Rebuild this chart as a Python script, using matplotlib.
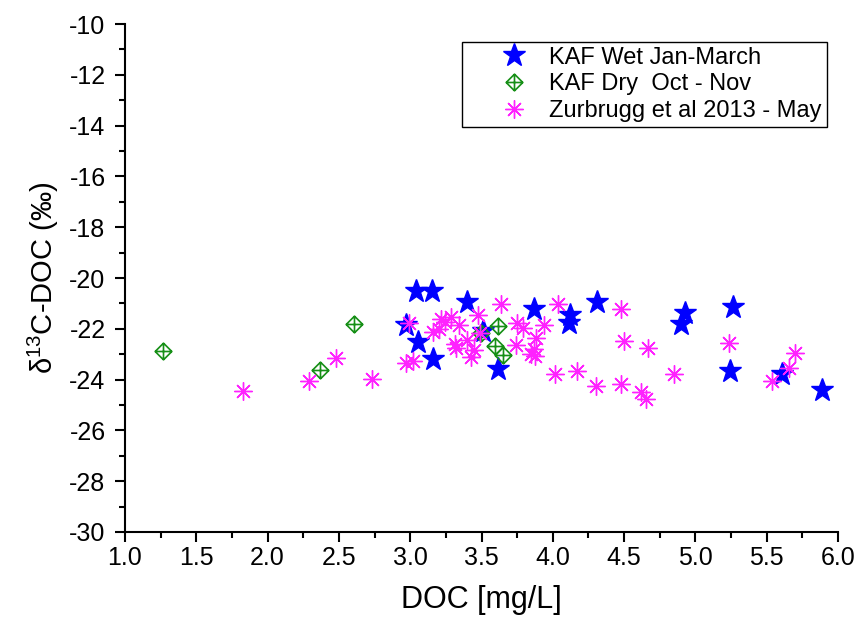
import numpy as np
import matplotlib
matplotlib.use("Agg")
import matplotlib.pyplot as plt
from matplotlib.path import Path
from matplotlib.ticker import MultipleLocator, FormatStrFormatter

plt.rcParams['font.family'] = ['Liberation Sans', 'DejaVu Sans']
plt.rcParams['mathtext.fontset'] = 'custom'
plt.rcParams['mathtext.rm'] = 'Liberation Sans'
plt.rcParams['mathtext.it'] = 'Liberation Sans:italic'

# KAF wet season (Jan-March)
wet_doc = [3.04, 3.15, 3.40, 3.87, 2.97, 3.056, 3.157, 3.508, 3.618, 4.31,
           4.12, 4.113, 4.926, 4.90, 5.266, 5.243, 5.61, 5.89]
wet_d13c = [-20.52, -20.52, -20.95, -21.22, -21.87, -22.5, -23.2, -22.07, -23.6, -20.95,
            -21.45, -21.77, -21.37, -21.8, -21.15, -23.68, -23.78, -24.41]

# KAF dry season (Oct - Nov)
dry_doc = [1.265, 2.366, 2.606, 3.496, 3.618, 3.595, 3.649]
dry_d13c = [-22.86, -23.62, -21.81, -22.16, -21.9, -22.69, -23.03]

# Zurbrugg et al 2013 (May)
zur_doc = [1.825, 2.29, 2.48, 2.735, 2.99, 2.97, 3.02, 3.16, 3.20, 3.215,
           3.245, 3.285, 3.345, 3.315, 3.32, 3.40, 3.45, 3.425, 3.475, 3.49,
           3.635, 3.75, 3.79, 3.745, 3.88, 3.94, 3.87, 3.845, 3.875, 4.035,
           4.015, 4.17, 4.305, 4.475, 4.48, 4.50, 4.615, 4.65, 4.67, 4.85,
           5.237, 5.535, 5.655, 5.695]
zur_d13c = [-24.45, -24.05, -23.15, -23.97, -21.76, -23.36, -23.28, -22.14, -22.0, -21.61,
            -21.74, -21.52, -21.87, -22.6, -22.75, -22.44, -22.83, -23.12, -21.44, -22.16,
            -21.02, -21.76, -21.98, -22.63, -22.36, -21.85, -22.8, -22.99, -23.06, -21.03,
            -23.77, -23.65, -24.25, -21.24, -24.17, -22.47, -24.47, -24.77, -22.76, -23.78,
            -22.57, -24.06, -23.56, -22.97]

labels = ["KAF Wet Jan-March", "KAF Dry  Oct - Nov", "Zurbrugg et al 2013 - May"]

# open diamond with a cross inside
diamond_cross = Path(
    [(0, 1), (1, 0), (0, -1), (-1, 0), (0, 1), (0, 1), (0, -1), (-1, 0), (1, 0)],
    [Path.MOVETO, Path.LINETO, Path.LINETO, Path.LINETO, Path.CLOSEPOLY,
     Path.MOVETO, Path.LINETO, Path.MOVETO, Path.LINETO])

fig = plt.figure(figsize=(8.56, 6.22), dpi=100)
ax = fig.add_axes([0.146, 0.1447, 0.833, 0.8167])

ax.plot(wet_doc, wet_d13c, linestyle='none', marker='*', markersize=17,
        color='#0000ff', markeredgecolor='#0000ff', label=labels[0])
ax.plot(dry_doc, dry_d13c, linestyle='none', marker=diamond_cross, markersize=12,
        markerfacecolor='none', markeredgecolor='#168f16', markeredgewidth=1.2,
        label=labels[1])
ax.plot(zur_doc, zur_d13c, linestyle='none', marker=(8, 2, 0), markersize=13,
        color='#ff22ff', markeredgecolor='#ff22ff', markeredgewidth=1.0,
        label=labels[2])

ax.set_xlim(1.0, 6.0)
ax.set_ylim(-30, -10)
ax.xaxis.set_major_locator(MultipleLocator(0.5))
ax.xaxis.set_minor_locator(MultipleLocator(0.25))
ax.yaxis.set_major_locator(MultipleLocator(2))
ax.yaxis.set_minor_locator(MultipleLocator(1))
ax.xaxis.set_major_formatter(FormatStrFormatter('%.1f'))
ax.yaxis.set_major_formatter(FormatStrFormatter('%d'))

for side in ('top', 'right'):
    ax.spines[side].set_visible(False)
for side in ('left', 'bottom'):
    ax.spines[side].set_linewidth(1.5)

ax.tick_params(which='major', direction='out', length=7, width=1.5, labelsize=18, pad=3)
ax.tick_params(axis='y', which='major', pad=7)
ax.tick_params(which='minor', direction='out', length=4, width=1.5)

ax.set_xlabel('DOC [mg/L]', fontsize=22, labelpad=11)
ax.set_ylabel(r'δ$^{13}$C-DOC (‰)', fontsize=21, labelpad=6)

leg = ax.legend(loc='upper left', bbox_to_anchor=(0.5397, 0.9325),
                bbox_transform=fig.transFigure, fontsize=17, frameon=True,
                fancybox=False, edgecolor='black', framealpha=1,
                handlelength=4.0, handletextpad=-0.5, borderpad=0.2,
                labelspacing=0.2, borderaxespad=0)
leg.get_frame().set_linewidth(1.0)

fig.savefig('out.png', dpi=100)
